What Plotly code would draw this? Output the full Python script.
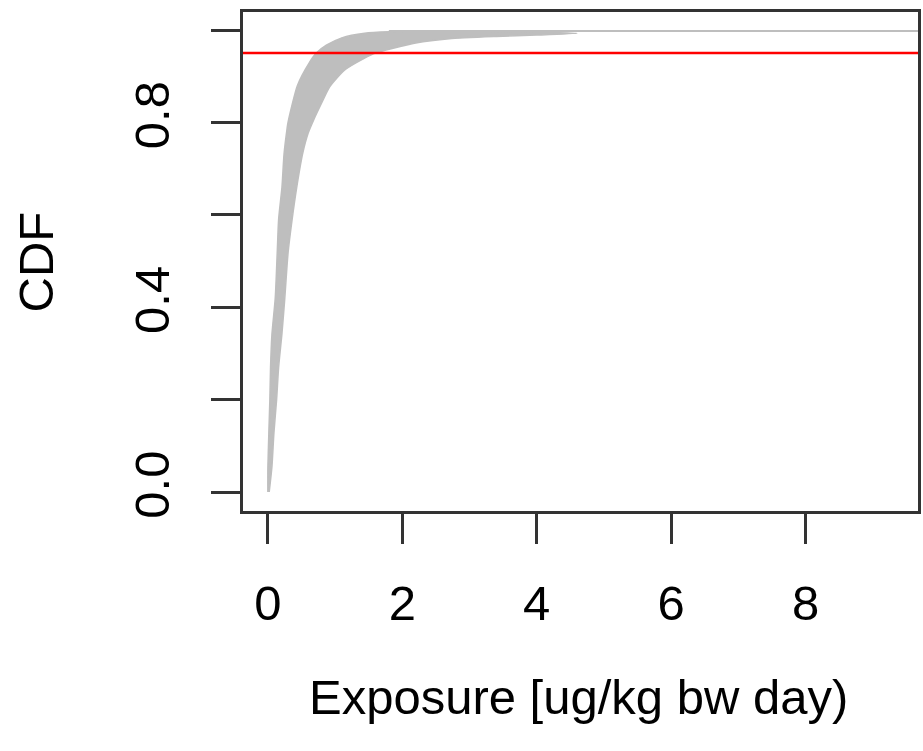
import plotly.graph_objects as go

# ---- data ----
# fast (left / upper) envelope of the family of CDF curves
left_cdf = [0.0, 0.05, 0.13, 0.20, 0.27, 0.34, 0.42, 0.52, 0.59, 0.66, 0.73, 0.78, 0.80,
            0.88, 0.93, 0.95, 0.967, 0.983, 0.993, 0.996, 0.998]
left_x = [0.0, 0.0, 0.015, 0.03, 0.04, 0.06, 0.11, 0.14, 0.16, 0.21, 0.24, 0.28, 0.30,
          0.44, 0.62, 0.72, 0.87, 1.10, 1.44, 1.80, 3.0]
# slow (right / lower) envelope
right_cdf = [0.0, 0.054, 0.128, 0.20, 0.27, 0.344, 0.416, 0.517, 0.589, 0.66, 0.734, 0.777,
             0.805, 0.842, 0.877, 0.913, 0.939, 0.95, 0.96, 0.972, 0.981, 0.986, 0.989, 0.993]
right_x = [0.02, 0.06, 0.09, 0.13, 0.16, 0.21, 0.25, 0.30, 0.36, 0.43, 0.52, 0.60,
           0.68, 0.80, 0.92, 1.14, 1.44, 1.60, 1.85, 2.20, 2.70, 3.40, 4.00, 4.60]
# upper plateau line (CDF = 1) running out to the largest exposure
top_x = [1.8, 9.674]
top_cdf = [0.998, 0.998]
threshold = 0.95

x_ticks = [0, 2, 4, 6, 8]
x_ticklabels = ["0", "2", "4", "6", "8"]
y_ticks = [0.0, 0.2, 0.4, 0.6, 0.8, 1.0]
y_ticklabels = ["0.0", "", "0.4", "", "0.8", ""]

GREY = "#bebebe"
FONT = "Liberation Sans, Arial, Helvetica, sans-serif"
FS = 49

band_x = left_x + right_x[::-1]
band_y = left_cdf + right_cdf[::-1]

fig = go.Figure()
fig.add_trace(go.Scatter(x=band_x, y=band_y, mode="lines", fill="toself",
                         fillcolor=GREY,
                         line=dict(color=GREY, width=1.5, shape="spline", smoothing=0.6),
                         hoverinfo="skip", showlegend=False))
fig.add_trace(go.Scatter(x=top_x, y=top_cdf, mode="lines",
                         line=dict(color=GREY, width=2),
                         hoverinfo="skip", showlegend=False))
fig.add_hline(y=threshold, line=dict(color="#ff0000", width=2.5))

fig.update_layout(
    width=923, height=751,
    margin=dict(l=243, r=2, t=12, b=240),
    paper_bgcolor="white", plot_bgcolor="white",
    font=dict(family=FONT, size=FS, color="black"),
    showlegend=False,
)
fig.update_xaxes(range=[-0.370, 9.674], tickvals=x_ticks, ticktext=x_ticklabels,
                 showgrid=False, zeroline=False, showline=True, mirror=True,
                 linecolor="#333333", linewidth=3, ticks="outside", ticklen=30,
                 tickwidth=2.5, tickcolor="#333333", ticklabelstandoff=17,
                 tickfont=dict(size=FS, family=FONT, color="black"))
fig.update_yaxes(range=[-0.0411, 1.039], tickvals=y_ticks, ticktext=y_ticklabels,
                 tickangle=-90,
                 showgrid=False, zeroline=False, showline=True, mirror=True,
                 linecolor="#333333", linewidth=3, ticks="outside", ticklen=29,
                 tickwidth=2.5, tickcolor="#333333", ticklabelstandoff=22,
                 tickfont=dict(size=FS, family=FONT, color="black"))

fig.add_annotation(text="Exposure [ug/kg bw day)", xref="paper", yref="paper",
                   x=0.497, y=-0.373, xanchor="center", yanchor="middle",
                   showarrow=False, font=dict(size=FS, family=FONT, color="black"))
fig.add_annotation(text="CDF", xref="paper", yref="paper",
                   x=(35 - 243) / 678, y=0.5, xanchor="center", yanchor="middle",
                   textangle=-90, showarrow=False,
                   font=dict(size=FS, family=FONT, color="black"))

fig.write_html("out.html", config={"displayModeBar": False},
               post_script="document.body.style.margin='0';document.body.style.overflow='hidden';")
